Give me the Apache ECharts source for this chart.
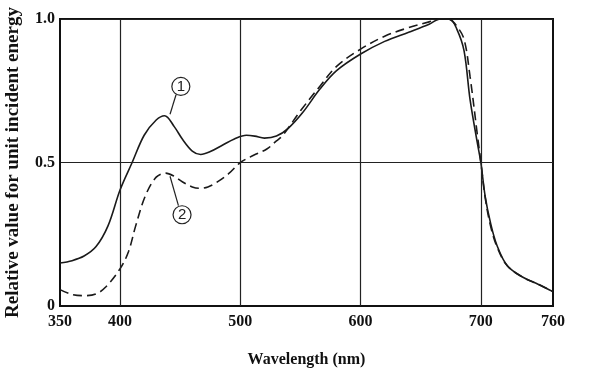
<!DOCTYPE html>
<html>
<head>
<meta charset="utf-8">
<script src="https://cdn.jsdelivr.net/npm/echarts@6/dist/echarts.min.js"></script>
<style>html,body{margin:0;padding:0;background:#fff;}#c{width:591px;height:370px;}</style>
</head>
<body>
<div id="c"></div>
<script>
// Wavelength (nm) and relative values, curve 1 (solid)
const wl1 = [350,360,370,380,390,400,410,420,430,437,445,452,460,467,475,485,495,505,512,520,530,540,552,566,580,600,620,640,657,666,674,680,686,691,697,700,703.5,708,713.5,722,735,748,760];
const val1 = [0.15,0.158,0.174,0.207,0.28,0.405,0.50,0.595,0.648,0.663,0.625,0.58,0.54,0.528,0.538,0.56,0.582,0.595,0.592,0.585,0.592,0.62,0.675,0.755,0.82,0.878,0.922,0.954,0.982,1.0,1.0,0.965,0.89,0.72,0.57,0.50,0.385,0.29,0.21,0.14,0.10,0.075,0.05];
// curve 2 (dashed)
const wl2 = [350,360,371,380,388,400,407,413,421,430,438,445,452,460,466,473,480,490,500,511,522,530,535,550,566,580,600,620,640,657,667,674,680,686,691,697,700,703.5,708,713.5,722,735,748,760];
const val2 = [0.057,0.04,0.036,0.042,0.066,0.13,0.19,0.28,0.384,0.449,0.463,0.452,0.432,0.415,0.41,0.415,0.43,0.46,0.50,0.525,0.547,0.575,0.593,0.68,0.765,0.835,0.895,0.94,0.97,0.99,1.0,0.998,0.975,0.93,0.80,0.60,0.50,0.38,0.28,0.205,0.14,0.10,0.075,0.05];
// tick labels
const xTicks = [350,400,500,600,700,760];
const xGrid = [400,500,600,700];
const yTicks = [0,0.5,1.0];
// curve annotations: circle label position and leader line [from, to]
const note1 = {label:'1', at:[450.5,0.765], leader:[[446.5,0.736],[441.5,0.668]]};
const note2 = {label:'2', at:[451.5,0.318], leader:[[448.5,0.35],[441.5,0.452]]};

const font = '"Liberation Serif", "Times New Roman", serif';
const chart = echarts.init(document.getElementById('c'));
const pairs = (a,b)=>a.map((x,i)=>[x,b[i]]);
const circle = n => ({
  coord: n.at, symbol:'circle', symbolSize:18,
  itemStyle:{color:'#fff', borderColor:'#222', borderWidth:1.2},
  label:{show:true, formatter:n.label, color:'#222', fontSize:15, fontFamily:'"Liberation Sans", sans-serif', position:'inside'}
});
const leader = n => [{coord:n.leader[0]},{coord:n.leader[1]}];

chart.setOption({
  animation:false,
  backgroundColor:'#fff',
  grid:{left:60, right:38, top:19, bottom:64, containLabel:false, outerBoundsMode:'none',
        show:true, borderColor:'#111', borderWidth:2, backgroundColor:'transparent'},
  xAxis:{
    type:'value', min:350, max:760, interval:50,
    axisLine:{show:true, lineStyle:{color:'#111', width:2}},
    axisTick:{show:false},
    splitLine:{show:false},
    axisLabel:{
      customValues:xTicks,
      formatter:v=>xTicks.indexOf(v)>=0?String(v):'',
      showMaxLabel:true, showMinLabel:true,
      color:'#111', fontSize:16, fontWeight:'bold', fontFamily:font, margin:8
    },
    name:'Wavelength (nm)', nameLocation:'middle', nameGap:46,
    nameTextStyle:{color:'#111', fontSize:16, fontWeight:'bold', fontFamily:font}
  },
  yAxis:{
    type:'value', min:0, max:1, interval:0.5,
    axisLine:{show:true, lineStyle:{color:'#111', width:2}},
    axisTick:{show:false},
    splitLine:{show:true, lineStyle:{color:'#222', width:1.2}},
    axisLabel:{
      formatter:v=>{const i=yTicks.findIndex(t=>Math.abs(t-v)<1e-9);return i<0?'':(v===0?'0':v.toFixed(1));},
      color:'#111', fontSize:16, fontWeight:'bold', fontFamily:font, margin:5
    },
    name:'Relative value for unit incident energy', nameLocation:'middle', nameGap:37,
    nameTextStyle:{color:'#111', fontSize:19, fontWeight:'bold', fontFamily:font}
  },
  series:[
    {
      type:'line', data:pairs(wl1,val1), smooth:0.35, showSymbol:false, z:3,
      lineStyle:{color:'#1a1a1a', width:1.6},
      markLine:{
        silent:true, symbol:'none', label:{show:false},
        lineStyle:{color:'#222', width:1.2, type:'solid'},
        data: xGrid.map(x=>({xAxis:x})).concat([leader(note1), leader(note2)])
      },
      markPoint:{silent:true, data:[circle(note1), circle(note2)]}
    },
    {
      type:'line', data:pairs(wl2,val2), smooth:0.35, showSymbol:false, z:3,
      lineStyle:{color:'#1a1a1a', width:1.6, type:[9,5]}
    }
  ]
});
</script>
</body>
</html>
